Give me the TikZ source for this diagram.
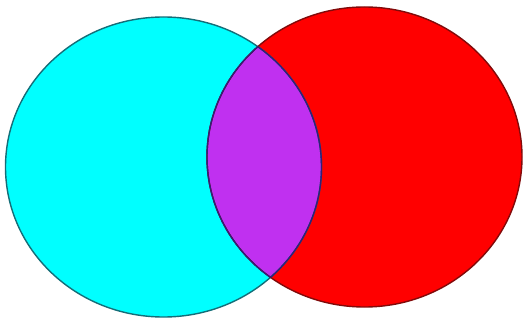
\documentclass[tikz,border=0pt]{standalone}
\begin{document}
\begin{tikzpicture}[x=1pt,y=-1pt,
  cyanfill/.style={fill={rgb,255:red,0;green,255;blue,255}},
  redfill/.style={fill={rgb,255:red,255;green,0;blue,0}},
  purplefill/.style={fill={rgb,255:red,192;green,48;blue,240}},
  cyanedge/.style={draw={rgb,255:red,20;green,110;blue,120},line width=1.4pt},
  rededge/.style={draw={rgb,255:red,130;green,10;blue,10},line width=1.4pt},
  inneredge/.style={draw={rgb,255:red,50;green,30;blue,120},line width=1.4pt}]
\useasboundingbox[fill=white] (0,0) rectangle (532,320);
\coordinate (A) at (163.5,167);
\coordinate (B) at (364.5,157);
\fill[cyanfill] (A) ellipse [x radius=158, y radius=150];
\fill[redfill] (B) ellipse [x radius=157.5, y radius=150];
\begin{scope}
  \clip (A) ellipse [x radius=158, y radius=150];
  \fill[purplefill] (B) ellipse [x radius=157.5, y radius=150];
\end{scope}
\draw[cyanedge] (A) ellipse [x radius=158, y radius=150];
\draw[rededge] (B) ellipse [x radius=157.5, y radius=150];
\begin{scope}
  \clip (A) ellipse [x radius=158, y radius=150];
  \draw[inneredge] (B) ellipse [x radius=157.5, y radius=150];
\end{scope}
\begin{scope}
  \clip (B) ellipse [x radius=157.5, y radius=150];
  \draw[inneredge] (A) ellipse [x radius=158, y radius=150];
\end{scope}
\end{tikzpicture}
\end{document}
